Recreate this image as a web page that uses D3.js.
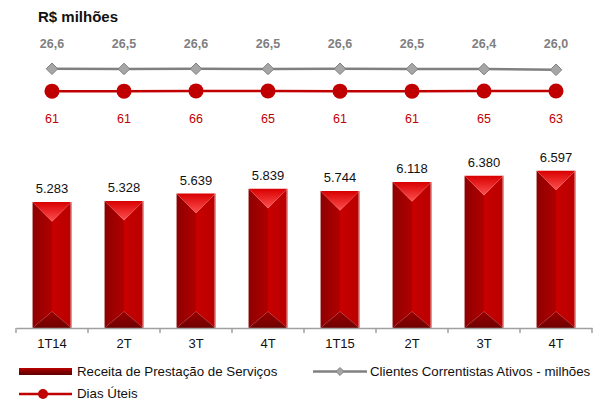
<!DOCTYPE html>
<html>
<head>
<meta charset="utf-8">
<script src="https://cdn.jsdelivr.net/npm/d3@7"></script>
<style>
  body { margin: 0; background: #fff; }
  svg { font-family: "Liberation Sans", Arial, sans-serif; }
</style>
</head>
<body>
<script>
// data
const categories = ['1T14', '2T', '3T', '4T', '1T15', '2T', '3T', '4T'];
const receita = [5283, 5328, 5639, 5839, 5744, 6118, 6380, 6597];
const clientes = [26.6, 26.5, 26.6, 26.5, 26.6, 26.5, 26.4, 26.0];
const dias = [61, 61, 66, 65, 61, 61, 65, 63];

const w = 602, h = 401;
const axisY = 328;

const svg = d3.select('body').append('svg')
  .attr('width', w).attr('height', h);

const defs = svg.append('defs');
function grad(id, stops, x2, y2) {
  const g = defs.append('linearGradient').attr('id', id)
    .attr('x1', 0).attr('y1', 0).attr('x2', x2).attr('y2', y2);
  stops.forEach(s => g.append('stop').attr('offset', s[0]).attr('stop-color', s[1]));
}
grad('gLeft', [[0, '#8e0000'], [1, '#b00000']], 1, 0);
grad('gRight', [[0, '#c80000'], [1, '#b80000']], 1, 0);
grad('gTop', [[0, '#d80000'], [1, '#ff5050']], 0, 1);
grad('gBottom', [[0, '#9a0000'], [1, '#6e0000']], 0, 1);
grad('gLegend', [[0, '#c00000'], [0.4, '#8a0000'], [1, '#5e0000']], 0, 1);

const ptBR = d3.formatLocale({ decimal: ',', thousands: '.', grouping: [3], currency: ['R$', ''] });
const fmtInt = ptBR.format(',d');
const fmtDec = ptBR.format('.1f');

const idx = d3.range(categories.length);
const x = d3.scaleBand().domain(idx).range([16, 592]).padding(0);
const y = d3.scaleLinear().domain([0, 7000]).range([axisY, axisY - 7000 * 0.02385]);
const yClientes = d3.scaleLinear().domain([20, 30]).range([80, 63]);
const yDias = d3.scaleLinear().domain([0, 2000]).range([94, 0]);

const bw = x.bandwidth() * 0.54;
const cx = i => x(i) + x.bandwidth() / 2;

// title
svg.append('text').attr('x', 38).attr('y', 22)
  .attr('font-size', 15).attr('font-weight', 'bold').attr('fill', '#111')
  .text('R$ milhões');

// bars (beveled look)
const bars = svg.selectAll('.bar').data(idx).enter().append('g').attr('class', 'bar');
bars.each(function(i) {
  const g = d3.select(this);
  const l = cx(i) - bw / 2, r = cx(i) + bw / 2, t = y(receita[i]), b = y(0), m = cx(i);
  const d = bw / 2;
  g.append('polygon').attr('fill', 'url(#gLeft)')
    .attr('points', [[l, t], [m, t + d], [m, b - d * 0.85], [l, b]].join(' '));
  g.append('polygon').attr('fill', 'url(#gRight)')
    .attr('points', [[r, t], [m, t + d], [m, b - d * 0.85], [r, b]].join(' '));
  g.append('polygon').attr('fill', 'url(#gTop)')
    .attr('points', [[l, t], [r, t], [m, t + d]].join(' '));
  g.append('polygon').attr('fill', 'url(#gBottom)')
    .attr('points', [[l, b], [r, b], [m, b - d * 0.85]].join(' '));
  g.append('line').attr('x1', r - 0.5).attr('x2', r - 0.5).attr('y1', t).attr('y2', b)
    .attr('stroke', '#e89a9a').attr('stroke-width', 1);
});

svg.selectAll('.val').data(idx).enter().append('text')
  .attr('x', cx).attr('y', i => y(receita[i]) - 9)
  .attr('text-anchor', 'middle').attr('font-size', 13).attr('fill', '#111')
  .text(i => fmtInt(receita[i]));

// axis
const xAxis = d3.axisBottom(x).tickSize(0).tickPadding(11).tickFormat(i => categories[i]);
const ax = svg.append('g').attr('transform', 'translate(0,' + axisY + ')').call(xAxis);
ax.select('.domain').attr('stroke', '#a0a0a0').attr('stroke-width', 1.5);
ax.selectAll('text').attr('font-size', 13).attr('fill', '#111').attr('font-family', null);
svg.selectAll('.btick').data(d3.range(categories.length + 1)).enter().append('line')
  .attr('x1', i => 16 + i * x.step()).attr('x2', i => 16 + i * x.step())
  .attr('y1', axisY).attr('y2', axisY + 5)
  .attr('stroke', '#a0a0a0').attr('stroke-width', 1.5);

// clientes line
svg.append('path').datum(idx)
  .attr('fill', 'none').attr('stroke', '#808080').attr('stroke-width', 2.5)
  .attr('d', d3.line().x(cx).y(i => yClientes(clientes[i])));
svg.selectAll('.diam').data(idx).enter().append('path')
  .attr('d', d3.symbol(d3.symbolDiamond2, 85)())
  .attr('transform', i => 'translate(' + cx(i) + ',' + yClientes(clientes[i]) + ')')
  .attr('fill', '#a6a6a6').attr('stroke', '#808080').attr('stroke-width', 1);
svg.selectAll('.cl').data(idx).enter().append('text')
  .attr('x', cx).attr('y', 48).attr('text-anchor', 'middle')
  .attr('font-size', 12.5).attr('font-weight', 'bold').attr('fill', '#808080')
  .text(i => fmtDec(clientes[i]));

// dias line
svg.append('path').datum(idx)
  .attr('fill', 'none').attr('stroke', '#c00000').attr('stroke-width', 2.5)
  .attr('d', d3.line().x(cx).y(i => yDias(dias[i])));
svg.selectAll('.dot').data(idx).enter().append('circle')
  .attr('cx', cx).attr('cy', i => yDias(dias[i])).attr('r', 7.5)
  .attr('fill', '#c00000');
svg.selectAll('.dl').data(idx).enter().append('text')
  .attr('x', cx).attr('y', 123).attr('text-anchor', 'middle')
  .attr('font-size', 12.5).attr('fill', '#c00000')
  .text(i => dias[i]);

// legend
const lg = svg.append('g').attr('font-size', 13.3).attr('fill', '#111');
lg.append('rect').attr('x', 19).attr('y', 368).attr('width', 53).attr('height', 7).attr('fill', 'url(#gLegend)');
lg.append('text').attr('x', 77).attr('y', 375.5).text('Receita de Prestação de Serviços');
lg.append('line').attr('x1', 313).attr('x2', 367).attr('y1', 371.5).attr('y2', 371.5)
  .attr('stroke', '#808080').attr('stroke-width', 2.5);
lg.append('path').attr('d', d3.symbol(d3.symbolDiamond2, 40)())
  .attr('transform', 'translate(340,371.5)').attr('fill', '#a6a6a6').attr('stroke', '#808080');
lg.append('text').attr('x', 370).attr('y', 375.5).text('Clientes Correntistas Ativos - milhões');
lg.append('line').attr('x1', 19).attr('x2', 72).attr('y1', 394).attr('y2', 394)
  .attr('stroke', '#c00000').attr('stroke-width', 2.5);
lg.append('circle').attr('cx', 43).attr('cy', 394).attr('r', 5).attr('fill', '#c00000');
lg.append('text').attr('x', 77).attr('y', 398).text('Dias Úteis');
</script>
</body>
</html>
